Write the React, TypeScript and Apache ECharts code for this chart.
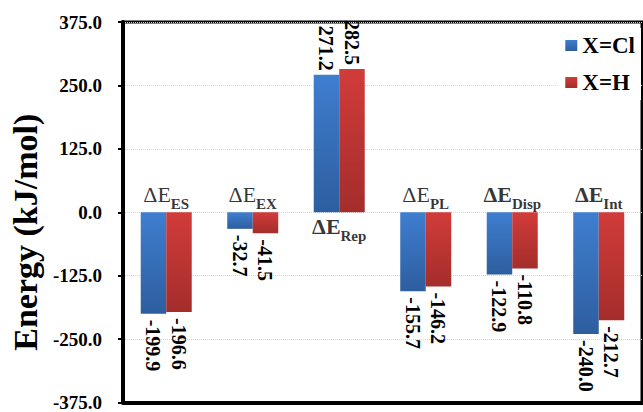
import React, { useEffect, useRef } from "react";
import * as echarts from "echarts";

// ---- data ----
const categories = ["ES", "EX", "Rep", "PL", "Disp", "Int"];
const seriesNames = ["X=Cl", "X=H"];
const clValues = [-199.9, -32.7, 271.2, -155.7, -122.9, -240.0];
const hValues = [-196.6, -41.5, 282.5, -146.2, -110.8, -212.7];
const yTicks = [-375, -250, -125, 0, 125, 250, 375];
const yAxisTitle = "Energy (kJ/mol)";

// ---- styles ----
const boldCategories = ["Rep", "Disp", "Int"];
const SERIF = "'Liberation Serif', 'Times New Roman', serif";

function barData(values: number[]) {
  return values.map((v) => ({
    value: v,
    label:
      v >= 0
        ? { position: "top", align: "right", verticalAlign: "middle", distance: 4 }
        : { position: "bottom", align: "left", verticalAlign: "middle", distance: 6 },
  }));
}

export default function App() {
  const ref = useRef<HTMLDivElement>(null);
  useEffect(() => {
    document.body.style.margin = "0";
    const chart = echarts.init(ref.current!, null, { renderer: "svg" });
    const blue = new echarts.graphic.LinearGradient(0, 0, 0, 1, [
      { offset: 0, color: "#3f7ed0" },
      { offset: 1, color: "#2d5e9f" },
    ]);
    const red = new echarts.graphic.LinearGradient(0, 0, 0, 1, [
      { offset: 0, color: "#d13c3a" },
      { offset: 1, color: "#a42d2b" },
    ]);
    const valueLabel = {
      show: true,
      rotate: -90,
      formatter: (p: any) => Number(p.value).toFixed(1),
      fontFamily: SERIF,
      fontSize: 20,
      fontWeight: "bold",
      color: "#000",
    };
    const option: any = {
      animation: false,
      grid: {
        left: 116,
        right: 1,
        top: 22,
        bottom: 8,
        show: true,
        borderColor: "#000",
        borderWidth: 3,
        backgroundColor: "transparent",
      },
      legend: {
        data: seriesNames,
        orient: "vertical",
        right: 2,
        top: 28,
        itemWidth: 12,
        itemHeight: 11,
        itemGap: 14,
        icon: "rect",
        backgroundColor: "#fff",
        padding: [6, 6, 6, 8],
        textStyle: { fontFamily: SERIF, fontSize: 23, fontWeight: "bold", color: "#000" },
      },
      xAxis: {
        type: "category",
        data: categories,
        axisLine: { onZero: false, lineStyle: { color: "#000", width: 4 } },
        axisTick: { show: false },
        axisLabel: { show: false },
        splitLine: { show: false },
      },
      yAxis: {
        type: "value",
        min: yTicks[0],
        max: yTicks[yTicks.length - 1],
        interval: yTicks[1] - yTicks[0],
        name: yAxisTitle,
        nameLocation: "middle",
        nameGap: 68,
        nameTextStyle: {
          fontFamily: SERIF,
          fontSize: 34,
          fontWeight: "bold",
          color: "#000",
          padding: [0, 40, 0, 0],
        },
        axisLine: { show: true, lineStyle: { color: "#000", width: 4 } },
        axisTick: { show: true, length: 5, lineStyle: { color: "#000", width: 2 } },
        axisLabel: {
          showMinLabel: true,
          showMaxLabel: true,
          formatter: (v: number) => v.toFixed(1),
          fontFamily: SERIF,
          fontSize: 19,
          fontWeight: "bold",
          color: "#000",
          margin: 21,
        },
        splitLine: { show: true, lineStyle: { color: "#c6d7eb", type: "dotted", width: 1 } },
      },
      series: [
        {
          name: seriesNames[0],
          type: "bar",
          data: barData(clValues),
          barWidth: 25.5,
          barGap: "0%",
          itemStyle: { color: blue },
          label: valueLabel,
        },
        {
          name: seriesNames[1],
          type: "bar",
          data: barData(hValues),
          barWidth: 25.5,
          barGap: "0%",
          itemStyle: { color: red },
          label: valueLabel,
        },
        {
          name: "labels",
          type: "scatter",
          symbolSize: 0,
          silent: true,
          z: 5,
          data: categories.map((c, i) => ({
            value: [i, 0],
            label: {
              position: clValues[i] > 0 ? "bottom" : "top",
              distance: clValues[i] > 0 ? 3 : 1,
            },
          })),
          label: {
            show: true,
            formatter: (p: any) => {
              const c = categories[p.dataIndex];
              const key = boldCategories.includes(c) ? "db" : "d";
              return `{${key}|ΔE}{s|${c}}`;
            },
            rich: {
              d: {
                fontFamily: SERIF,
                fontSize: 22,
                fontWeight: "normal",
                color: "#000",
                lineHeight: 28,
                verticalAlign: "top",
              },
              db: {
                fontFamily: SERIF,
                fontSize: 22,
                fontWeight: "bold",
                color: "#000",
                lineHeight: 28,
                verticalAlign: "top",
              },
              s: {
                fontFamily: SERIF,
                fontSize: 15,
                fontWeight: "bold",
                color: "#000",
                lineHeight: 18,
                verticalAlign: "bottom",
              },
            },
          },
        },
      ],
    };
    chart.setOption(option);
    return () => chart.dispose();
  }, []);
  return <div ref={ref} style={{ width: 643, height: 412 }} />;
}
